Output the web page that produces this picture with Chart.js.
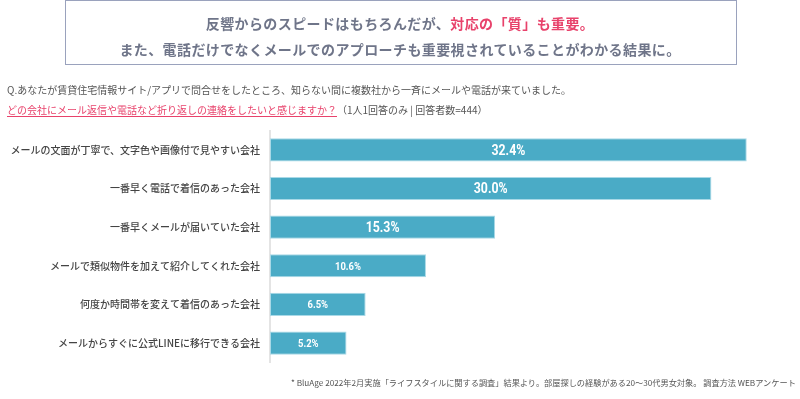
<!DOCTYPE html>
<html>
<head>
<meta charset="utf-8">
<script src="https://cdn.jsdelivr.net/npm/chart.js@4/dist/chart.umd.min.js"></script>
<style>
  html, body { margin:0; padding:0; background:#fff; }
  #wrap { position:relative; width:800px; height:399px; overflow:hidden; font-family:"Noto Sans CJK JP","Noto Sans",sans-serif; }
  #c { position:absolute; left:0; top:0; }
  .box { position:absolute; left:65px; top:0px; width:670px; height:63px; border:1.5px solid #9aa2bd; box-sizing:content-box; }
  .t { position:absolute; white-space:nowrap; }
  .title { left:0; width:800px; text-align:center; font-size:14px; letter-spacing:0.4px; font-weight:700; color:#6f7589; }
  .pink { color:#e8426b; }
  .q { left:7px; font-size:10px; color:#555; }
  .qp { color:#e8426b; text-decoration:underline; text-underline-offset:2px; }
  .foot { left:291px; font-size:8.2px; color:#555; }
</style>
</head>
<body>
<div id="wrap">
  <canvas id="c" width="800" height="399"></canvas>
  <div class="box"></div>
  <div class="t title" style="top:13px;">反響からのスピードはもちろんだが、<span class="pink">対応の「質」も重要。</span></div>
  <div class="t title" style="top:39px;">また、電話だけでなくメールでのアプローチも重要視されていることがわかる結果に。</div>
  <div class="t q" style="top:82px;">Q.あなたが賃貸住宅情報サイト/アプリで問合せをしたところ、知らない間に複数社から一斉にメールや電話が来ていました。</div>
  <div class="t q" style="top:102px;"><span class="qp">どの会社にメール返信や電話など折り返しの連絡をしたいと感じますか？</span>（1人1回答のみ | 回答者数=444）</div>
  <div class="t foot" style="top:376px;">* BluAge 2022年2月実施「ライフスタイルに関する調査」結果より。部屋探しの経験がある20〜30代男女対象。 調査方法 WEBアンケート</div>
</div>
<script>
const categories = [
  "メールの文面が丁寧で、文字色や画像付で見やすい会社",
  "一番早く電話で着信のあった会社",
  "一番早くメールが届いていた会社",
  "メールで類似物件を加えて紹介してくれた会社",
  "何度か時間帯を変えて着信のあった会社",
  "メールからすぐに公式LINEに移行できる会社"
];
const values = [32.4, 30.0, 15.3, 10.6, 6.5, 5.2];
const xMin = 0;
const xMax = 35;

const valueLabels = {
  id: 'valueLabels',
  afterDatasetsDraw(chart) {
    const ctx = chart.ctx;
    const meta = chart.getDatasetMeta(0);
    meta.data.forEach((bar, i) => {
      const v = values[i];
      const size = v >= 15 ? 15 : 11.5;
      const cx = (bar.x + bar.base) / 2;
      ctx.save();
      ctx.fillStyle = '#ffffff';
      ctx.textAlign = 'center';
      ctx.textBaseline = 'middle';
      ctx.font = 'bold ' + size + 'px "Roboto", "DejaVu Sans", sans-serif';
      ctx.translate(cx, bar.y + 1);
      ctx.scale(0.82, 1);
      ctx.fillText(v.toFixed(1) + '%', 0, 0);
      ctx.restore();
    });
  }
};

new Chart(document.getElementById('c'), {
  type: 'bar',
  data: {
    labels: categories,
    datasets: [{
      data: values,
      backgroundColor: '#4aabc6',
      borderColor: '#a9d9e7',
      borderWidth: 1,
      borderSkipped: false,
      barPercentage: 0.6,
      categoryPercentage: 1.0
    }]
  },
  options: {
    indexAxis: 'y',
    responsive: false,
    animation: false,
    devicePixelRatio: 1,
    layout: { padding: { left: 0, right: 15, top: 130.5, bottom: 36.6 } },
    plugins: { legend: { display: false }, tooltip: { enabled: false } },
    scales: {
      x: { display: false, min: xMin, max: xMax },
      y: {
        grid: { display: false, drawTicks: false },
        border: { display: true, color: '#e4e4e4', width: 2 },
        ticks: {
          color: '#444',
          padding: 10,
          font: { family: '"Noto Sans CJK JP", sans-serif', size: 10, weight: '500' }
        },
        afterFit(scale) { scale.width = 270; }
      }
    }
  },
  plugins: [valueLabels]
});
</script>
</body>
</html>
